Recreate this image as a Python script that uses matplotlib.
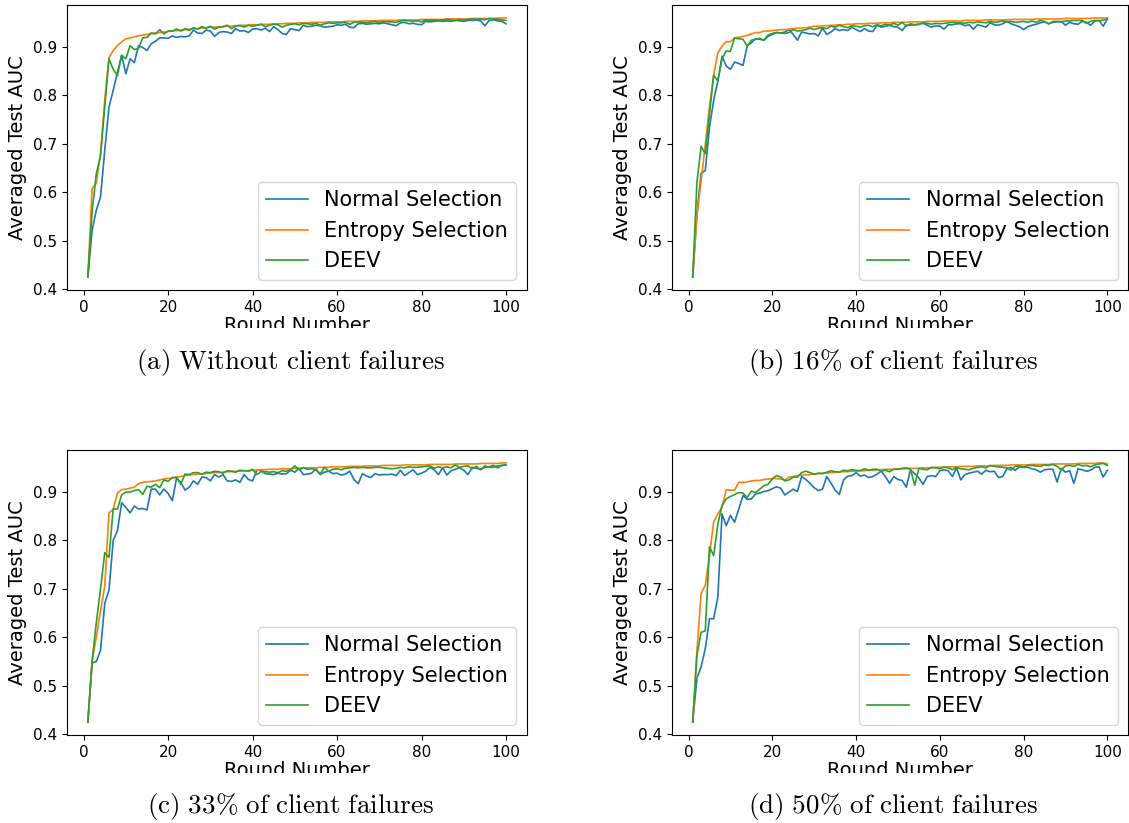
import matplotlib
matplotlib.use('Agg')
import matplotlib.pyplot as plt
from matplotlib.patches import Rectangle

plt.rcParams['mathtext.fontset'] = 'cm'

rounds = list(range(1, 101))
labels = ['Normal Selection', 'Entropy Selection', 'DEEV']
captions = [r'$\mathrm{(a)\ Without\ client\ failures}$',
            r'$\mathrm{(b)\ 16\%\ of\ client\ failures}$',
            r'$\mathrm{(c)\ 33\%\ of\ client\ failures}$',
            r'$\mathrm{(d)\ 50\%\ of\ client\ failures}$']

# (a) without failures
normal_a = [0.425, 0.521, 0.563, 0.590, 0.686, 0.775, 0.810, 0.847, 0.882, 0.844, 0.875, 0.867, 0.902, 0.898, 0.892, 0.906, 0.911, 0.918, 0.918, 0.917,
            0.922, 0.919, 0.921, 0.920, 0.922, 0.934, 0.928, 0.927, 0.934, 0.932, 0.921, 0.929, 0.931, 0.930, 0.927, 0.937, 0.932, 0.933, 0.929, 0.936,
            0.937, 0.934, 0.938, 0.931, 0.941, 0.935, 0.927, 0.925, 0.937, 0.935, 0.933, 0.944, 0.941, 0.942, 0.944, 0.943, 0.940, 0.941, 0.942, 0.945,
            0.944, 0.946, 0.940, 0.939, 0.947, 0.948, 0.946, 0.947, 0.948, 0.947, 0.949, 0.947, 0.945, 0.943, 0.949, 0.950, 0.947, 0.948, 0.946, 0.945,
            0.952, 0.951, 0.952, 0.953, 0.952, 0.953, 0.952, 0.954, 0.953, 0.952, 0.954, 0.954, 0.955, 0.953, 0.943, 0.954, 0.955, 0.953, 0.952, 0.947]
entropy_a = [0.425, 0.608, 0.618, 0.680, 0.790, 0.877, 0.892, 0.902, 0.910, 0.916, 0.918, 0.920, 0.922, 0.924, 0.925, 0.927, 0.928, 0.929, 0.930, 0.931,
             0.932, 0.933, 0.934, 0.935, 0.936, 0.937, 0.937, 0.938, 0.939, 0.940, 0.940, 0.941, 0.941, 0.942, 0.942, 0.943, 0.943, 0.944, 0.944, 0.945,
             0.945, 0.946, 0.946, 0.946, 0.947, 0.947, 0.947, 0.948, 0.948, 0.948, 0.949, 0.949, 0.949, 0.950, 0.950, 0.950, 0.950, 0.951, 0.951, 0.951,
             0.951, 0.952, 0.952, 0.952, 0.952, 0.953, 0.953, 0.953, 0.953, 0.954, 0.954, 0.954, 0.954, 0.954, 0.955, 0.955, 0.955, 0.955, 0.955, 0.956,
             0.956, 0.956, 0.956, 0.956, 0.956, 0.957, 0.957, 0.957, 0.957, 0.957, 0.957, 0.958, 0.958, 0.958, 0.958, 0.958, 0.958, 0.959, 0.959, 0.959]
deev_a = [0.425, 0.560, 0.638, 0.675, 0.776, 0.875, 0.853, 0.840, 0.882, 0.875, 0.902, 0.894, 0.896, 0.918, 0.919, 0.928, 0.926, 0.935, 0.926, 0.932,
          0.932, 0.936, 0.932, 0.937, 0.933, 0.939, 0.936, 0.941, 0.938, 0.942, 0.936, 0.940, 0.941, 0.944, 0.937, 0.942, 0.944, 0.940, 0.944, 0.942,
          0.944, 0.946, 0.941, 0.944, 0.946, 0.945, 0.940, 0.944, 0.946, 0.947, 0.945, 0.948, 0.947, 0.946, 0.948, 0.944, 0.947, 0.949, 0.948, 0.949,
          0.949, 0.950, 0.946, 0.950, 0.951, 0.950, 0.949, 0.951, 0.952, 0.950, 0.952, 0.951, 0.951, 0.950, 0.953, 0.954, 0.953, 0.952, 0.953, 0.951,
          0.955, 0.954, 0.955, 0.954, 0.955, 0.956, 0.955, 0.954, 0.956, 0.955, 0.956, 0.957, 0.956, 0.957, 0.955, 0.958, 0.957, 0.956, 0.955, 0.954]

# (b) 16% failures
normal_b = [0.425, 0.556, 0.639, 0.645, 0.734, 0.790, 0.830, 0.881, 0.861, 0.854, 0.869, 0.866, 0.862, 0.902, 0.909, 0.917, 0.916, 0.914, 0.922, 0.926,
            0.930, 0.929, 0.931, 0.936, 0.926, 0.914, 0.931, 0.929, 0.927, 0.928, 0.923, 0.939, 0.926, 0.931, 0.938, 0.934, 0.936, 0.934, 0.941, 0.936,
            0.932, 0.938, 0.933, 0.932, 0.945, 0.941, 0.943, 0.945, 0.942, 0.941, 0.934, 0.945, 0.945, 0.946, 0.947, 0.949, 0.945, 0.941, 0.944, 0.943,
            0.937, 0.946, 0.946, 0.948, 0.948, 0.944, 0.946, 0.937, 0.946, 0.944, 0.941, 0.950, 0.946, 0.945, 0.948, 0.953, 0.948, 0.945, 0.942, 0.936,
            0.942, 0.945, 0.947, 0.950, 0.952, 0.948, 0.951, 0.952, 0.953, 0.945, 0.951, 0.948, 0.947, 0.953, 0.951, 0.945, 0.954, 0.955, 0.943, 0.958]
entropy_b = [0.425, 0.549, 0.624, 0.698, 0.777, 0.842, 0.888, 0.902, 0.911, 0.911, 0.919, 0.920, 0.922, 0.924, 0.927, 0.930, 0.930, 0.933, 0.933, 0.934,
             0.935, 0.936, 0.936, 0.937, 0.938, 0.939, 0.939, 0.940, 0.941, 0.943, 0.943, 0.944, 0.944, 0.945, 0.945, 0.946, 0.946, 0.947, 0.947, 0.948,
             0.948, 0.948, 0.949, 0.949, 0.949, 0.950, 0.950, 0.950, 0.951, 0.951, 0.951, 0.951, 0.952, 0.952, 0.952, 0.952, 0.953, 0.953, 0.953, 0.953,
             0.954, 0.954, 0.954, 0.954, 0.954, 0.955, 0.955, 0.955, 0.955, 0.955, 0.956, 0.956, 0.956, 0.956, 0.956, 0.956, 0.957, 0.957, 0.957, 0.957,
             0.957, 0.957, 0.958, 0.958, 0.958, 0.958, 0.958, 0.958, 0.958, 0.959, 0.959, 0.959, 0.959, 0.959, 0.959, 0.959, 0.960, 0.960, 0.960, 0.960]
deev_b = [0.425, 0.620, 0.695, 0.680, 0.761, 0.842, 0.830, 0.875, 0.892, 0.891, 0.919, 0.917, 0.916, 0.902, 0.914, 0.916, 0.918, 0.914, 0.925, 0.928,
          0.930, 0.929, 0.928, 0.930, 0.936, 0.933, 0.934, 0.936, 0.939, 0.936, 0.939, 0.940, 0.938, 0.943, 0.941, 0.945, 0.942, 0.940, 0.944, 0.943,
          0.941, 0.944, 0.945, 0.942, 0.946, 0.944, 0.947, 0.945, 0.949, 0.945, 0.951, 0.943, 0.948, 0.946, 0.947, 0.950, 0.949, 0.947, 0.949, 0.948,
          0.949, 0.950, 0.951, 0.950, 0.950, 0.949, 0.951, 0.950, 0.952, 0.951, 0.950, 0.953, 0.951, 0.952, 0.954, 0.952, 0.953, 0.951, 0.952, 0.953,
          0.951, 0.954, 0.951, 0.955, 0.953, 0.948, 0.953, 0.953, 0.952, 0.954, 0.954, 0.955, 0.955, 0.955, 0.949, 0.953, 0.955, 0.954, 0.956, 0.958]

# (c) 33% failures
normal_c = [0.425, 0.547, 0.550, 0.573, 0.670, 0.697, 0.800, 0.820, 0.878, 0.868, 0.857, 0.871, 0.865, 0.866, 0.863, 0.906, 0.906, 0.894, 0.906, 0.897,
            0.882, 0.929, 0.920, 0.904, 0.910, 0.923, 0.916, 0.931, 0.930, 0.923, 0.936, 0.931, 0.936, 0.923, 0.922, 0.925, 0.920, 0.936, 0.926, 0.923,
            0.945, 0.945, 0.938, 0.937, 0.936, 0.939, 0.937, 0.938, 0.945, 0.941, 0.949, 0.936, 0.937, 0.939, 0.948, 0.936, 0.941, 0.943, 0.938, 0.939,
            0.935, 0.937, 0.943, 0.926, 0.917, 0.938, 0.933, 0.930, 0.938, 0.935, 0.936, 0.936, 0.937, 0.934, 0.945, 0.934, 0.940, 0.946, 0.936, 0.939,
            0.943, 0.951, 0.946, 0.936, 0.950, 0.935, 0.944, 0.947, 0.950, 0.945, 0.936, 0.951, 0.949, 0.947, 0.951, 0.952, 0.955, 0.950, 0.955, 0.956]
entropy_c = [0.425, 0.550, 0.600, 0.655, 0.706, 0.857, 0.864, 0.898, 0.905, 0.906, 0.908, 0.910, 0.917, 0.920, 0.921, 0.922, 0.923, 0.925, 0.927, 0.928,
             0.929, 0.931, 0.932, 0.934, 0.935, 0.936, 0.937, 0.937, 0.938, 0.939, 0.940, 0.940, 0.941, 0.942, 0.942, 0.943, 0.943, 0.944, 0.944, 0.945,
             0.945, 0.946, 0.946, 0.947, 0.947, 0.947, 0.948, 0.948, 0.948, 0.949, 0.949, 0.950, 0.950, 0.950, 0.950, 0.951, 0.951, 0.951, 0.952, 0.952,
             0.952, 0.952, 0.953, 0.953, 0.953, 0.953, 0.954, 0.954, 0.954, 0.954, 0.955, 0.955, 0.955, 0.955, 0.955, 0.956, 0.956, 0.956, 0.956, 0.956,
             0.956, 0.957, 0.957, 0.957, 0.957, 0.957, 0.957, 0.958, 0.958, 0.958, 0.958, 0.958, 0.958, 0.959, 0.959, 0.959, 0.959, 0.959, 0.960, 0.960]
deev_c = [0.425, 0.550, 0.630, 0.700, 0.775, 0.765, 0.865, 0.865, 0.894, 0.900, 0.900, 0.903, 0.905, 0.895, 0.912, 0.910, 0.916, 0.909, 0.925, 0.922,
          0.930, 0.930, 0.916, 0.937, 0.936, 0.940, 0.940, 0.937, 0.941, 0.940, 0.943, 0.942, 0.939, 0.944, 0.943, 0.941, 0.945, 0.944, 0.943, 0.947,
          0.936, 0.942, 0.942, 0.941, 0.942, 0.940, 0.944, 0.943, 0.946, 0.954, 0.946, 0.950, 0.947, 0.948, 0.946, 0.937, 0.951, 0.943, 0.947, 0.948,
          0.946, 0.949, 0.950, 0.951, 0.950, 0.951, 0.950, 0.950, 0.951, 0.951, 0.950, 0.949, 0.948, 0.949, 0.951, 0.950, 0.952, 0.951, 0.951, 0.952,
          0.953, 0.954, 0.949, 0.952, 0.950, 0.952, 0.950, 0.956, 0.951, 0.953, 0.954, 0.948, 0.953, 0.946, 0.954, 0.951, 0.951, 0.954, 0.955, 0.956]

# (d) 50% failures
normal_d = [0.425, 0.515, 0.539, 0.576, 0.638, 0.638, 0.683, 0.854, 0.830, 0.851, 0.837, 0.864, 0.892, 0.884, 0.885, 0.895, 0.897, 0.900, 0.902, 0.906,
            0.910, 0.907, 0.893, 0.899, 0.905, 0.900, 0.931, 0.925, 0.917, 0.908, 0.902, 0.905, 0.931, 0.918, 0.903, 0.894, 0.924, 0.932, 0.933, 0.939,
            0.932, 0.934, 0.929, 0.931, 0.936, 0.942, 0.931, 0.917, 0.931, 0.925, 0.923, 0.909, 0.945, 0.937, 0.928, 0.915, 0.931, 0.933, 0.931, 0.943,
            0.945, 0.943, 0.931, 0.949, 0.924, 0.935, 0.938, 0.940, 0.942, 0.936, 0.944, 0.941, 0.942, 0.929, 0.931, 0.947, 0.950, 0.944, 0.951, 0.950,
            0.950, 0.947, 0.945, 0.940, 0.945, 0.946, 0.946, 0.920, 0.948, 0.940, 0.943, 0.917, 0.947, 0.945, 0.942, 0.944, 0.950, 0.951, 0.930, 0.944]
entropy_d = [0.425, 0.570, 0.690, 0.707, 0.768, 0.837, 0.854, 0.868, 0.904, 0.903, 0.903, 0.919, 0.919, 0.920, 0.922, 0.923, 0.923, 0.925, 0.926, 0.927,
             0.927, 0.926, 0.924, 0.930, 0.931, 0.933, 0.934, 0.935, 0.935, 0.936, 0.937, 0.938, 0.938, 0.939, 0.940, 0.940, 0.941, 0.941, 0.942, 0.942,
             0.943, 0.943, 0.944, 0.944, 0.945, 0.945, 0.946, 0.946, 0.946, 0.947, 0.947, 0.947, 0.948, 0.948, 0.948, 0.949, 0.949, 0.949, 0.950, 0.950,
             0.950, 0.951, 0.951, 0.951, 0.952, 0.952, 0.952, 0.952, 0.953, 0.953, 0.953, 0.953, 0.954, 0.954, 0.954, 0.954, 0.955, 0.955, 0.955, 0.955,
             0.955, 0.956, 0.956, 0.956, 0.956, 0.956, 0.957, 0.957, 0.957, 0.957, 0.957, 0.957, 0.958, 0.958, 0.958, 0.958, 0.958, 0.959, 0.959, 0.957]
deev_d = [0.425, 0.563, 0.610, 0.613, 0.786, 0.768, 0.833, 0.871, 0.885, 0.890, 0.894, 0.898, 0.897, 0.888, 0.901, 0.898, 0.905, 0.912, 0.915, 0.926,
          0.933, 0.930, 0.922, 0.924, 0.930, 0.930, 0.939, 0.942, 0.939, 0.936, 0.938, 0.937, 0.940, 0.943, 0.941, 0.940, 0.944, 0.943, 0.945, 0.944,
          0.943, 0.947, 0.944, 0.946, 0.946, 0.942, 0.944, 0.941, 0.946, 0.946, 0.948, 0.949, 0.946, 0.913, 0.948, 0.946, 0.945, 0.950, 0.949, 0.947,
          0.951, 0.949, 0.945, 0.950, 0.947, 0.946, 0.945, 0.948, 0.950, 0.951, 0.949, 0.954, 0.952, 0.951, 0.950, 0.949, 0.944, 0.952, 0.953, 0.950,
          0.954, 0.954, 0.953, 0.952, 0.955, 0.954, 0.956, 0.952, 0.945, 0.953, 0.954, 0.952, 0.956, 0.953, 0.954, 0.951, 0.955, 0.957, 0.958, 0.954]

panels = [(normal_a, entropy_a, deev_a), (normal_b, entropy_b, deev_b),
          (normal_c, entropy_c, deev_c), (normal_d, entropy_d, deev_d)]

fig = plt.figure(figsize=(11.29, 8.23), dpi=100)

# axes boxes in figure fraction: left, bottom, width, height
boxes = [[0.0593, 0.6476, 0.4074, 0.3463],
         [0.5952, 0.6476, 0.4040, 0.3463],
         [0.0593, 0.1069, 0.4074, 0.3463],
         [0.5952, 0.1069, 0.4040, 0.3463]]
cap_x = [0.257, 0.791, 0.257, 0.791]
cap_y = [0.552, 0.552, 0.012, 0.012]

for i, (box, series) in enumerate(zip(boxes, panels)):
    ax = fig.add_axes(box)
    for ys, lab in zip(series, labels):
        ax.plot(rounds, ys, label=lab, linewidth=1.2)
    ax.set_xticks([0, 20, 40, 60, 80, 100])
    ax.set_yticks([0.4, 0.5, 0.6, 0.7, 0.8, 0.9])
    ax.tick_params(labelsize=11)
    ax.set_xlabel('Round Number', fontsize=14, labelpad=1)
    ax.set_ylabel('Averaged Test AUC', fontsize=14)
    ax.legend(loc='lower right', fontsize=15)
    fig.text(cap_x[i], cap_y[i], captions[i], fontsize=19.5, ha='center')

# the original sub-images cut off the bottom of the x label
for yb in [0.583, 0.043]:
    fig.patches.append(Rectangle((0, yb), 1, 0.018, transform=fig.transFigure,
                                 facecolor='white', edgecolor='none', zorder=10))

fig.savefig('out.png', dpi=100)
